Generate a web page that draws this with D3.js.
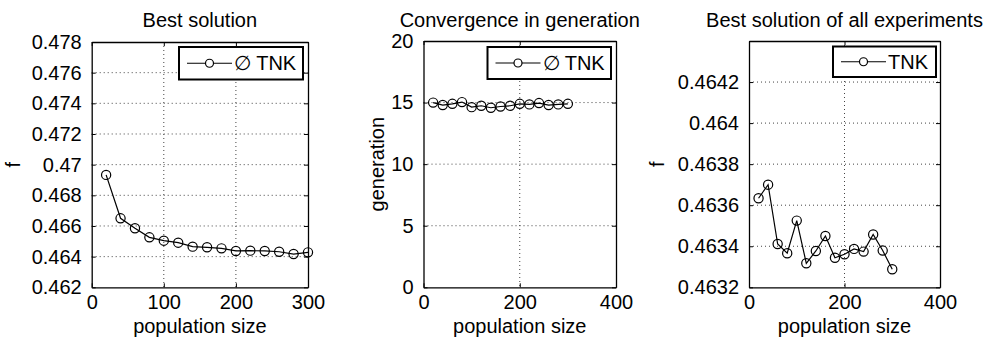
<!DOCTYPE html>
<html>
<head>
<meta charset="utf-8">
<script src="https://cdn.jsdelivr.net/npm/d3@7"></script>
<style>
  html, body { margin: 0; padding: 0; background: #fff; }
  svg { display: block; }
  text { font-family: "Liberation Sans", Arial, Helvetica, sans-serif; fill: #000; }
</style>
</head>
<body>
<svg id="chart" width="986" height="338"></svg>
<script>
// Population sizes used in the experiments
const popSize = [20, 40, 60, 80, 100, 120, 140, 160, 180, 200, 220, 240, 260, 280, 300];

// Mean best objective value per population size
const bestMean = [0.46933, 0.4665, 0.46585, 0.46526, 0.46504, 0.46491, 0.46465, 0.46461,
                  0.46454, 0.46437, 0.46439, 0.46437, 0.46432, 0.46417, 0.46428];

// Mean generation at which convergence was reached
const convGen = [15.0, 14.8, 14.9, 15.04, 14.63, 14.74, 14.58, 14.68, 14.74, 14.9,
                 14.85, 14.96, 14.8, 14.85, 14.9];

// Best objective value over all experiments
const bestAll = [0.463634, 0.4637, 0.463411, 0.463366, 0.463525, 0.463317, 0.463377, 0.46345,
                 0.463344, 0.463361, 0.463387, 0.463374, 0.463457, 0.463379, 0.463288];

// Tick values and their printed labels
const ticksX1 = [0, 100, 200, 300];
const ticksX2 = [0, 200, 400];
const ticksY1 = [0.462, 0.464, 0.466, 0.468, 0.47, 0.472, 0.474, 0.476, 0.478];
const labelsY1 = ["0.462", "0.464", "0.466", "0.468", "0.47", "0.472", "0.474", "0.476", "0.478"];
const ticksY2 = [0, 5, 10, 15, 20];
const labelsY2 = ["0", "5", "10", "15", "20"];
const ticksY3 = [0.4632, 0.4634, 0.4636, 0.4638, 0.464, 0.4642];
const labelsY3 = ["0.4632", "0.4634", "0.4636", "0.4638", "0.464", "0.4642"];

const titles = ["Best solution", "Convergence in generation", "Best solution of all experiments"];
const yLabels = ["f", "generation", "f"];
const xLabel = "population size";
const legendLabels = ["\u2205 TNK", "\u2205 TNK", "TNK"];

const svg = d3.select("#chart");
const FS = 20;

const panels = [
  { left: 91.7, right: 308, top: 42, bottom: 287.3, xDom: [0, 300], yDom: [0.462, 0.478],
    xt: ticksX1, yt: ticksY1, yl: labelsY1, data: bestMean, ylx: 20,
    leg: { x0: 179, x1: 303, y0: 47, y1: 79.5 } },
  { left: 423.5, right: 616, top: 41, bottom: 287.3, xDom: [0, 400], yDom: [0, 20],
    xt: ticksX2, yt: ticksY2, yl: labelsY2, data: convGen, ylx: 384,
    leg: { x0: 487.5, x1: 611, y0: 47, y1: 79 } },
  { left: 749, right: 940, top: 41, bottom: 287.3, xDom: [0, 400], yDom: [0.4632, 0.4644],
    xt: ticksX2, yt: ticksY3, yl: labelsY3, data: bestAll, ylx: 664,
    leg: { x0: 833, x1: 936, y0: 46.5, y1: 77 } }
];

panels.forEach((p, i) => {
  const g = svg.append("g");
  const x = d3.scaleLinear().domain(p.xDom).range([p.left, p.right]);
  const y = d3.scaleLinear().domain(p.yDom).range([p.bottom, p.top]);

  // dotted grid
  g.append("g").selectAll("line.gx")
    .data(p.xt.filter(v => v > p.xDom[0] && v < p.xDom[1]))
    .join("line")
    .attr("x1", d => x(d)).attr("x2", d => x(d))
    .attr("y1", p.top).attr("y2", p.bottom)
    .attr("stroke", "#444").attr("stroke-width", 1).attr("stroke-dasharray", "1,3");
  g.append("g").selectAll("line.gy")
    .data(p.yt.filter(v => v > p.yDom[0] && v < p.yDom[1]))
    .join("line")
    .attr("x1", p.left).attr("x2", p.right)
    .attr("y1", d => y(d)).attr("y2", d => y(d))
    .attr("stroke", "#444").attr("stroke-width", 1).attr("stroke-dasharray", "1,3");

  // axes with inward ticks on all four sides
  const tl = 4;
  const bottomAxis = d3.axisBottom(x).tickValues(p.xt).tickSizeInner(-tl).tickSizeOuter(0)
    .tickPadding(8).tickFormat(d3.format("d"));
  const topAxis = d3.axisTop(x).tickValues(p.xt).tickSizeInner(-tl).tickSizeOuter(0).tickFormat("");
  const leftAxis = d3.axisLeft(y).tickValues(p.yt).tickSizeInner(-tl).tickSizeOuter(0)
    .tickPadding(10).tickFormat((d, k) => p.yl[k]);
  const rightAxis = d3.axisRight(y).tickValues(p.yt).tickSizeInner(-tl).tickSizeOuter(0).tickFormat("");

  const axes = [
    g.append("g").attr("transform", `translate(0,${p.bottom})`).call(bottomAxis),
    g.append("g").attr("transform", `translate(0,${p.top})`).call(topAxis),
    g.append("g").attr("transform", `translate(${p.left},0)`).call(leftAxis),
    g.append("g").attr("transform", `translate(${p.right},0)`).call(rightAxis)
  ];
  axes.forEach(a => {
    a.selectAll("path.domain").attr("stroke", "#000").attr("stroke-width", 1.3);
    a.selectAll(".tick line").attr("stroke", "#000").attr("stroke-width", 1);
    a.selectAll("text").attr("font-size", FS)
      .attr("font-family", "'Liberation Sans', Arial, sans-serif").attr("fill", "#000");
  });

  // title and axis labels
  const cx = (p.left + p.right) / 2;
  g.append("text").attr("x", cx).attr("y", 27).attr("text-anchor", "middle")
    .attr("font-size", FS).text(titles[i]);
  g.append("text").attr("x", cx).attr("y", 332.5).attr("text-anchor", "middle")
    .attr("font-size", FS).text(xLabel);
  g.append("text")
    .attr("transform", `translate(${p.ylx},${(p.top + p.bottom) / 2}) rotate(-90)`)
    .attr("text-anchor", "middle").attr("font-size", FS).text(yLabels[i]);

  // data line with circle markers
  const pts = popSize.map((v, k) => [v, p.data[k]]);
  g.append("path").datum(pts)
    .attr("d", d3.line().x(d => x(d[0])).y(d => y(d[1])))
    .attr("fill", "none").attr("stroke", "#000").attr("stroke-width", 1.2);
  g.append("g").selectAll("circle").data(pts).join("circle")
    .attr("cx", d => x(d[0])).attr("cy", d => y(d[1])).attr("r", 4.6)
    .attr("fill", "none").attr("stroke", "#000").attr("stroke-width", 1.2);

  // legend
  const L = p.leg;
  g.append("rect").attr("x", L.x0).attr("y", L.y0)
    .attr("width", L.x1 - L.x0).attr("height", L.y1 - L.y0)
    .attr("fill", "#fff").attr("stroke", "#000").attr("stroke-width", 2);
  const ly = (L.y0 + L.y1) / 2;
  const lx0 = L.x0 + 8, lx1 = L.x0 + 53;
  g.append("line").attr("x1", lx0).attr("x2", lx1).attr("y1", ly).attr("y2", ly)
    .attr("stroke", "#000").attr("stroke-width", 1.2);
  g.append("circle").attr("cx", (lx0 + lx1) / 2).attr("cy", ly).attr("r", 4)
    .attr("fill", "#fff").attr("stroke", "#000").attr("stroke-width", 1.2);
  g.append("text").attr("x", lx1 + 2).attr("y", ly).attr("dy", "0.36em")
    .attr("font-size", FS).text(legendLabels[i]);
});
</script>
</body>
</html>
